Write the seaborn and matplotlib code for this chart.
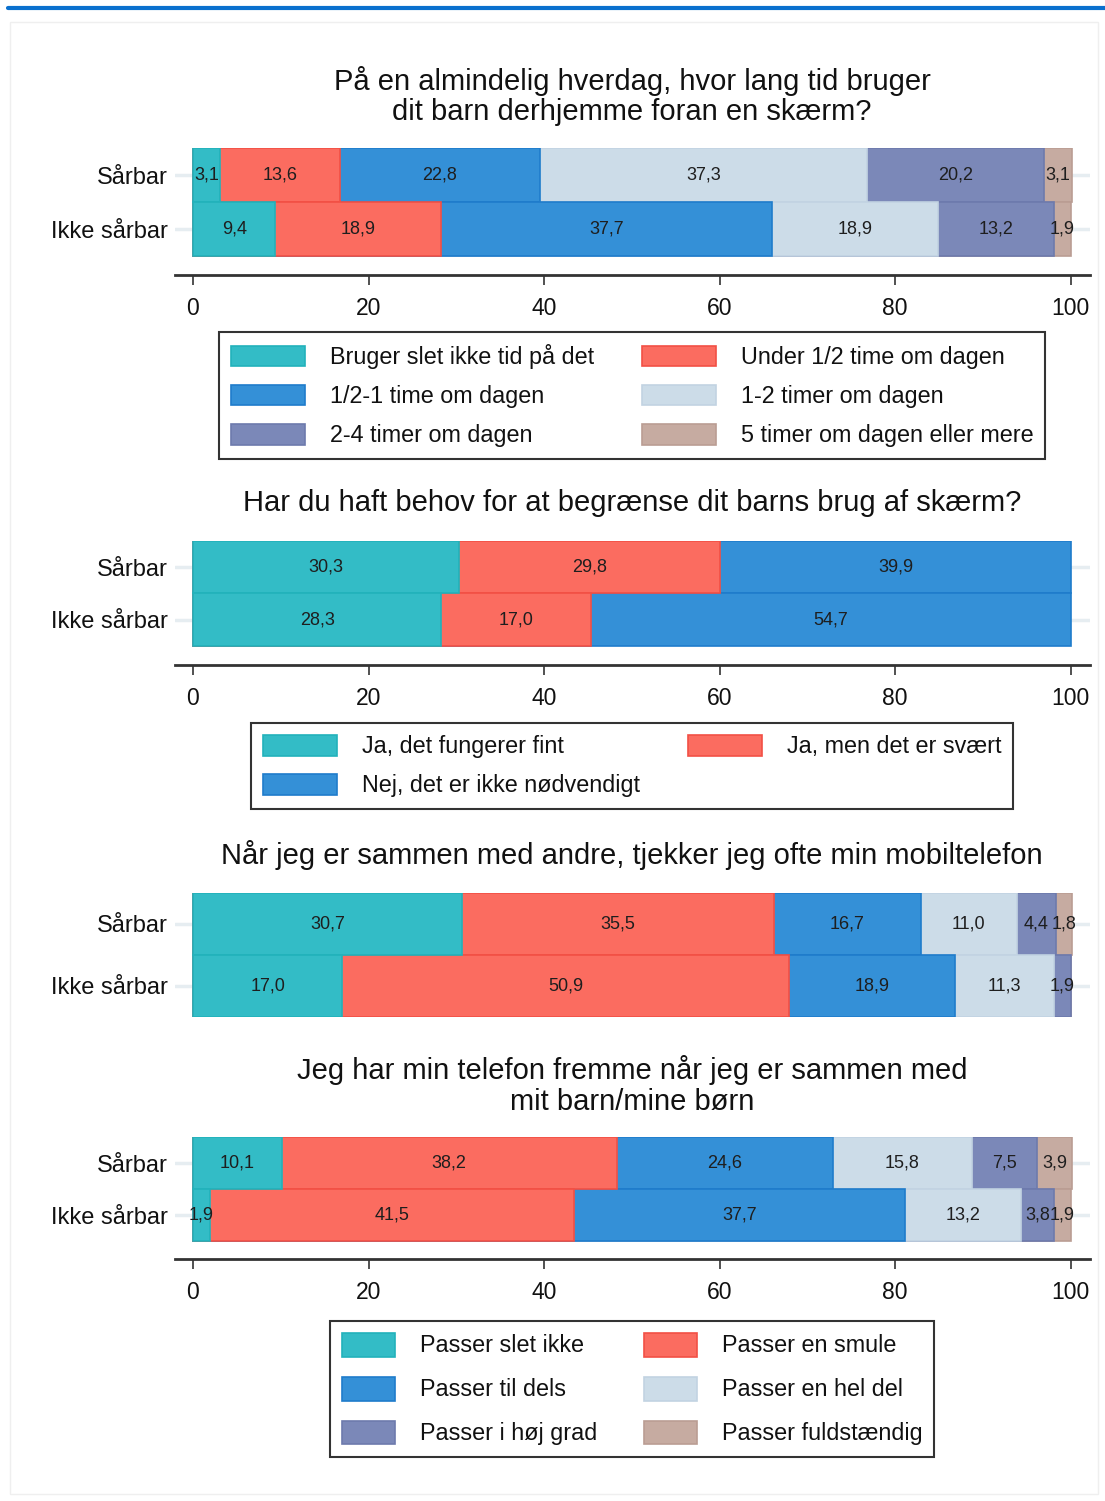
import matplotlib
matplotlib.use("Agg")
import matplotlib.pyplot as plt
import numpy as np
import pandas as pd
import seaborn as sns
from matplotlib.patches import Patch, Rectangle
from matplotlib.lines import Line2D

sns.set_theme(style="white")
plt.rcParams['font.family'] = ['Liberation Sans', 'DejaVu Sans']

# data
groups = ["Sårbar", "Ikke sårbar"]

title1 = "På en almindelig hverdag, hvor lang tid bruger\ndit barn derhjemme foran en skærm?"
cats1 = ["Bruger slet ikke tid på det", "Under 1/2 time om dagen", "1/2-1 time om dagen",
         "1-2 timer om dagen", "2-4 timer om dagen", "5 timer om dagen eller mere"]
sarbar1 = [3.1, 13.6, 22.8, 37.3, 20.2, 3.1]
ikke1 = [9.4, 18.9, 37.7, 18.9, 13.2, 1.9]

title2 = "Har du haft behov for at begrænse dit barns brug af skærm?"
cats2 = ["Ja, det fungerer fint", "Ja, men det er svært", "Nej, det er ikke nødvendigt"]
sarbar2 = [30.3, 29.8, 39.9]
ikke2 = [28.3, 17.0, 54.7]

title3 = "Når jeg er sammen med andre, tjekker jeg ofte min mobiltelefon"
sarbar3 = [30.7, 35.5, 16.7, 11.0, 4.4, 1.8]
ikke3 = [17.0, 50.9, 18.9, 11.3, 1.9, 0.0]

title4 = "Jeg har min telefon fremme når jeg er sammen med\nmit barn/mine børn"
cats4 = ["Passer slet ikke", "Passer en smule", "Passer til dels",
         "Passer en hel del", "Passer i høj grad", "Passer fuldstændig"]
sarbar4 = [10.1, 38.2, 24.6, 15.8, 7.5, 3.9]
ikke4 = [1.9, 41.5, 37.7, 13.2, 3.8, 1.9]

xticks = [0, 20, 40, 60, 80, 100]

fills = ["#33BCC6", "#FB6C60", "#3490D7", "#CCDCE8", "#7B88B8", "#C6ABA1"]
edges = ["#22B2BB", "#F25045", "#1F7CCB", "#C2D3E2", "#6D7AAD", "#BA9D93"]

W, H = 1105, 1501
fig = plt.figure(figsize=(W / 100, H / 100), dpi=100)

# top blue rule and faint frame
fig.add_artist(Line2D([8 / W, 1.0], [1 - 8 / H, 1 - 8 / H], color="#0A70CE", lw=3))
fig.add_artist(Rectangle((10 / W, 1 - 1494 / H), 1088 / W, (1494 - 22) / H,
                         fill=False, ec="#EFEFEF", lw=1))


def panel(top, bot, bar_bot, vals_s, vals_i, title, title_y, show_x=True):
    ax = fig.add_axes([175 / W, 1 - bot / H, (1090 - 175) / W, (bot - top) / H])
    unit = (bar_bot - top) / 2.0
    ax.set_zorder(1)
    # gridlines
    for yy in [0, 1]:
        ax.axhline(yy, color="#E6EDF1", lw=2.5, zorder=0)
    n = len(vals_s)
    cum_s = np.cumsum(vals_s)
    cum_i = np.cumsum(vals_i)
    for k in range(n - 1, -1, -1):
        df = pd.DataFrame({"grp": groups, "val": [cum_s[k], cum_i[k]]})
        sns.barplot(data=df, x="val", y="grp", orient="y", color=fills[k],
                    edgecolor=edges[k], linewidth=1.2, width=1.0, saturation=1,
                    errorbar=None, ax=ax, zorder=2)
    for row, (vals, cum) in enumerate([(vals_s, cum_s), (vals_i, cum_i)]):
        for k, v in enumerate(vals):
            if v <= 0:
                continue
            ax.text(cum[k] - v / 2, row, f"{v:.1f}".replace(".", ","),
                    ha="center", va="center", fontsize=13, color="#1E1E1E", zorder=5)
    ax.set_xlim(-2.05, 102.2)
    ax.set_ylim(1.5 + (bot - bar_bot) / unit, -0.5)
    ax.set_xlabel("")
    ax.set_ylabel("")
    for s in ["top", "right", "left"]:
        ax.spines[s].set_visible(False)
    ax.tick_params(axis="y", length=0, pad=5, labelsize=17, labelcolor="#111111")
    if show_x:
        ax.spines["bottom"].set_color("#333333")
        ax.spines["bottom"].set_linewidth(2)
        ax.set_xticks(xticks)
        ax.set_xticklabels([str(t) for t in xticks])
        ax.tick_params(axis="x", bottom=True, length=7, width=1.2, color="#333333",
                       pad=9, labelsize=16.5, labelcolor="#111111")
    else:
        ax.spines["bottom"].set_visible(False)
        ax.set_xticks([])
    ax.patch.set_alpha(0)
    fig.text(632 / W, 1 - title_y / H, title, ha="center", va="center",
             fontsize=21, color="#111111", linespacing=1.12)
    return ax


def legend(cats, order, cy, hl=3.2, hh=1.0, ls=0.67, cs=2.05):
    handles = [Patch(facecolor=fills[i], edgecolor=edges[i], lw=1.2) for i in order]
    labels = [cats[i] for i in order]
    lg = fig.legend(handles, labels, loc="center", bbox_to_anchor=(632 / W, 1 - cy / H),
                    bbox_transform=fig.transFigure, ncol=2, fontsize=16.8,
                    handlelength=hl, handleheight=hh, handletextpad=1.05,
                    columnspacing=cs, labelspacing=ls, borderpad=0.5,
                    fancybox=False, framealpha=1, edgecolor="#333333")
    lg.get_frame().set_linewidth(1.5)
    for t in lg.get_texts():
        t.set_color("#111111")


panel(148, 275, 256, sarbar1, ikke1, title1, 96)
legend(cats1, [0, 2, 4, 1, 3, 5], 395.5)

panel(541, 665, 646, sarbar2, ikke2, title2, 503)
legend(cats2, [0, 2, 1], 766)

panel(893, 1017, 1017, sarbar3, ikke3, title3, 855, show_x=False)

panel(1137, 1259, 1241, sarbar4, ikke4, title4, 1085.5)
legend(cats4, [0, 2, 4, 1, 3, 5], 1389, hl=2.3, hh=1.2, ls=0.82, cs=2.0)

fig.savefig("out.png", dpi=100)
